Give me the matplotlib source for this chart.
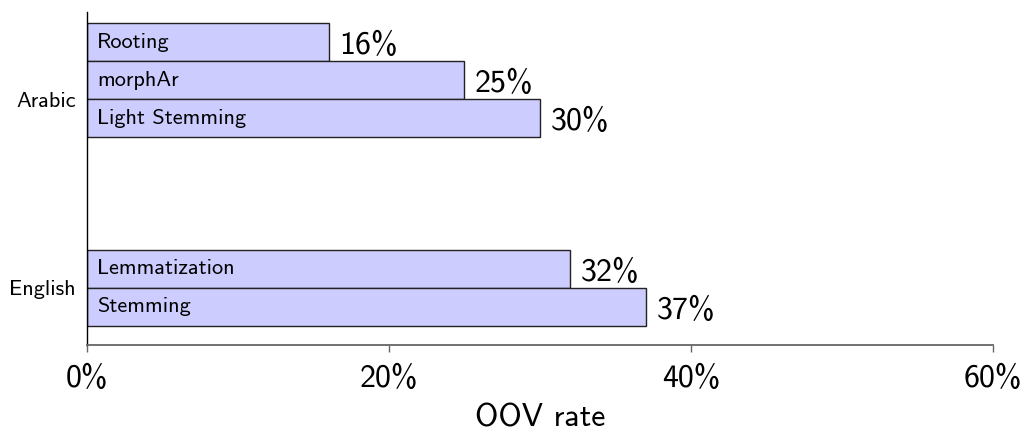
import matplotlib
matplotlib.use("Agg")
import matplotlib.pyplot as plt

categories = ["English", "Arabic"]
arabic_methods = ["Rooting", "morphAr", "Light Stemming"]
arabic_values = [16, 25, 30]
english_methods = ["Lemmatization", "Stemming"]
english_values = [32, 37]
xticks = [0, 20, 40, 60]

plt.rcParams["font.family"] = ["cmss10", "DejaVu Sans"]
plt.rcParams["axes.formatter.use_mathtext"] = False

fig = plt.figure(figsize=(10.30, 4.33), dpi=100)
ax = fig.add_axes([87/1030, (433-345)/433, (993-87)/1030, (345-12)/433])

face = "#ccccff"
group_centers = {"English": 0.0, "Arabic": 4.97}
big = 23

def draw_group(center, methods, values):
    n = len(methods)
    for i, (m, v) in enumerate(zip(methods, values)):
        y = center + (n - 1) - i - 0.5
        ax.barh(y, v, height=1.0, color=face, edgecolor="#222222", linewidth=1.0)
        ax.text(0.65, y, m, ha="left", va="center", fontsize=16)
        ax.text(v + 0.7, y - 0.1, f"{v}%", ha="left", va="center", fontsize=big)

draw_group(group_centers["Arabic"], arabic_methods, arabic_values)
draw_group(group_centers["English"], english_methods, english_values)

ax.set_xlim(0, 60)
ax.set_ylim(-1.5, 7.26)
ax.set_xticks(xticks)
ax.set_xticklabels([f"{t}%" for t in xticks], fontsize=big)
ax.set_yticks([group_centers[c] for c in categories])
ax.set_yticklabels(categories, fontsize=16)
ax.tick_params(axis="y", length=0, pad=8)
ax.tick_params(axis="x", length=5, width=1, color="#666666", pad=9)
ax.set_xlabel("OOV rate", fontsize=big, labelpad=7)

for s in ["top", "right"]:
    ax.spines[s].set_visible(False)
ax.spines["left"].set_color("black")
ax.spines["left"].set_linewidth(1.0)
ax.spines["bottom"].set_color("#666666")
ax.spines["bottom"].set_linewidth(1.3)

fig.savefig("out.png", dpi=100)
